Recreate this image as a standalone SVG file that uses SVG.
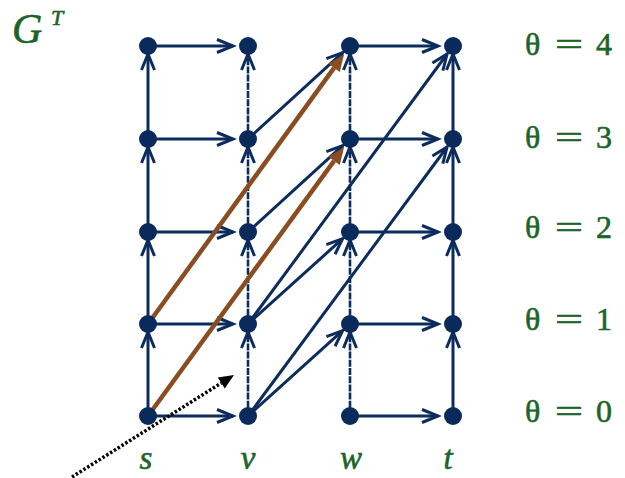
<svg xmlns="http://www.w3.org/2000/svg" width="625" height="478" viewBox="0 0 625 478">
<style>
.e{stroke:#0c2c5e;stroke-width:3;fill:none}
.d{stroke:#0c2c5e;stroke-width:2.6;fill:none;stroke-dasharray:7 1.2}
.b{stroke:#8a4d22;stroke-width:4.5;fill:none}
.n{fill:#0a2a5c}
.lab{font-family:"Liberation Serif","Times New Roman",serif;fill:#1b6528;stroke:#1b6528;stroke-width:0.6}
</style>
<defs>
<marker id="ch" markerUnits="userSpaceOnUse" markerWidth="40" markerHeight="40" refX="0" refY="0" orient="auto" overflow="visible">
<path d="M-16,-6.5 L0,0 L-16,6.5" fill="none" stroke="#0c2c5e" stroke-width="3"/>
</marker>
<marker id="br" markerUnits="userSpaceOnUse" markerWidth="40" markerHeight="40" refX="0" refY="0" orient="auto" overflow="visible">
<path d="M0,-7 L17,0 L0,7 z" fill="#8a4d22"/>
</marker>
<marker id="bk" markerUnits="userSpaceOnUse" markerWidth="40" markerHeight="40" refX="0" refY="0" orient="auto" overflow="visible">
<path d="M0,-6.5 L15,0 L0,6.5 z" fill="#000"/>
</marker>
</defs>
<rect width="625" height="478" fill="#fff"/>
<g id="connectors">
<line class="e" x1="148" y1="416" x2="148" y2="332" marker-end="url(#ch)"/>
<line class="e" x1="148" y1="324" x2="148" y2="240" marker-end="url(#ch)"/>
<line class="e" x1="148" y1="232" x2="148" y2="147" marker-end="url(#ch)"/>
<line class="e" x1="148" y1="139" x2="148" y2="54" marker-end="url(#ch)"/>
<line class="d" x1="248" y1="416" x2="248" y2="332" marker-end="url(#ch)"/>
<line class="d" x1="248" y1="324" x2="248" y2="240" marker-end="url(#ch)"/>
<line class="d" x1="248" y1="232" x2="248" y2="147" marker-end="url(#ch)"/>
<line class="d" x1="248" y1="139" x2="248" y2="54" marker-end="url(#ch)"/>
<line class="d" x1="350" y1="416" x2="350" y2="332" marker-end="url(#ch)"/>
<line class="d" x1="350" y1="324" x2="350" y2="240" marker-end="url(#ch)"/>
<line class="d" x1="350" y1="232" x2="350" y2="147" marker-end="url(#ch)"/>
<line class="d" x1="350" y1="139" x2="350" y2="54" marker-end="url(#ch)"/>
<line class="e" x1="453" y1="416" x2="453" y2="332" marker-end="url(#ch)"/>
<line class="e" x1="453" y1="324" x2="453" y2="240" marker-end="url(#ch)"/>
<line class="e" x1="453" y1="232" x2="453" y2="147" marker-end="url(#ch)"/>
<line class="e" x1="453" y1="139" x2="453" y2="54" marker-end="url(#ch)"/>
<line class="e" x1="148" y1="46" x2="233" y2="46" marker-end="url(#ch)"/>
<line class="e" x1="148" y1="139" x2="233" y2="139" marker-end="url(#ch)"/>
<line class="e" x1="148" y1="232" x2="233" y2="232" marker-end="url(#ch)"/>
<line class="e" x1="148" y1="324" x2="233" y2="324" marker-end="url(#ch)"/>
<line class="e" x1="148" y1="416" x2="233" y2="416" marker-end="url(#ch)"/>
<line class="e" x1="350" y1="46" x2="438" y2="46" marker-end="url(#ch)"/>
<line class="e" x1="350" y1="139" x2="438" y2="139" marker-end="url(#ch)"/>
<line class="e" x1="350" y1="232" x2="438" y2="232" marker-end="url(#ch)"/>
<line class="e" x1="350" y1="324" x2="438" y2="324" marker-end="url(#ch)"/>
<line class="e" x1="350" y1="416" x2="438" y2="416" marker-end="url(#ch)"/>
<line class="e" x1="248" y1="139" x2="342.6" y2="52.7" marker-end="url(#ch)"/>
<line class="e" x1="248" y1="232" x2="342.6" y2="145.7" marker-end="url(#ch)"/>
<line class="e" x1="248" y1="324" x2="342.6" y2="238.7" marker-end="url(#ch)"/>
<line class="e" x1="248" y1="416" x2="342.6" y2="330.7" marker-end="url(#ch)"/>
<line class="e" x1="248" y1="324" x2="447.1" y2="54" marker-end="url(#ch)"/>
<line class="e" x1="248" y1="416" x2="447.1" y2="147" marker-end="url(#ch)"/>
<line class="b" x1="148" y1="324" x2="334.1" y2="67.9" marker-end="url(#br)"/>
<line class="b" x1="148" y1="416" x2="334.1" y2="160.8" marker-end="url(#br)"/>
<line x1="72" y1="477" x2="221.3" y2="383" stroke="#000" stroke-width="3.5" stroke-dasharray="2.5 2" marker-end="url(#bk)"/>
</g>
<g id="node-s4"><circle class="n" cx="148" cy="46" r="9"/></g>
<g id="node-s3"><circle class="n" cx="148" cy="139" r="9"/></g>
<g id="node-s2"><circle class="n" cx="148" cy="232" r="9"/></g>
<g id="node-s1"><circle class="n" cx="148" cy="324" r="9"/></g>
<g id="node-s0"><circle class="n" cx="148" cy="416" r="9"/></g>
<g id="node-v4"><circle class="n" cx="248" cy="46" r="9"/></g>
<g id="node-v3"><circle class="n" cx="248" cy="139" r="9"/></g>
<g id="node-v2"><circle class="n" cx="248" cy="232" r="9"/></g>
<g id="node-v1"><circle class="n" cx="248" cy="324" r="9"/></g>
<g id="node-v0"><circle class="n" cx="248" cy="416" r="9"/></g>
<g id="node-w4"><circle class="n" cx="350" cy="46" r="9"/></g>
<g id="node-w3"><circle class="n" cx="350" cy="139" r="9"/></g>
<g id="node-w2"><circle class="n" cx="350" cy="232" r="9"/></g>
<g id="node-w1"><circle class="n" cx="350" cy="324" r="9"/></g>
<g id="node-w0"><circle class="n" cx="350" cy="416" r="9"/></g>
<g id="node-t4"><circle class="n" cx="453" cy="46" r="9"/></g>
<g id="node-t3"><circle class="n" cx="453" cy="139" r="9"/></g>
<g id="node-t2"><circle class="n" cx="453" cy="232" r="9"/></g>
<g id="node-t1"><circle class="n" cx="453" cy="324" r="9"/></g>
<g id="node-t0"><circle class="n" cx="453" cy="416" r="9"/></g>
<g id="labels">
<text class="lab" x="12" y="43" font-size="42" font-style="italic">G</text>
<text class="lab" x="51" y="25" font-size="22" font-style="italic">T</text>
<text class="lab" x="146" y="469" font-size="33" font-style="italic" text-anchor="middle">s</text>
<text class="lab" x="248" y="469" font-size="33" font-style="italic" text-anchor="middle">v</text>
<text class="lab" x="351" y="469" font-size="33" font-style="italic" text-anchor="middle">w</text>
<text class="lab" x="448" y="469" font-size="33" font-style="italic" text-anchor="middle">t</text>
<text class="lab" y="55" font-size="32"><tspan x="525">θ</tspan><tspan x="555" textLength="28" lengthAdjust="spacingAndGlyphs">=</tspan><tspan x="596">4</tspan></text>
<text class="lab" y="148" font-size="32"><tspan x="525">θ</tspan><tspan x="555" textLength="28" lengthAdjust="spacingAndGlyphs">=</tspan><tspan x="596">3</tspan></text>
<text class="lab" y="238" font-size="32"><tspan x="525">θ</tspan><tspan x="555" textLength="28" lengthAdjust="spacingAndGlyphs">=</tspan><tspan x="596">2</tspan></text>
<text class="lab" y="330" font-size="32"><tspan x="525">θ</tspan><tspan x="555" textLength="28" lengthAdjust="spacingAndGlyphs">=</tspan><tspan x="596">1</tspan></text>
<text class="lab" y="422" font-size="32"><tspan x="525">θ</tspan><tspan x="555" textLength="28" lengthAdjust="spacingAndGlyphs">=</tspan><tspan x="596">0</tspan></text>
</g>
</svg>
